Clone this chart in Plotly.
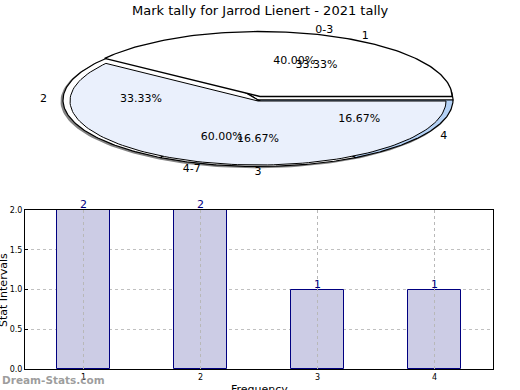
import numpy as np
import plotly.graph_objects as go

title_text = "Mark tally for Jarrod Lienert - 2021 tally"
outer_labels = ["0-3", "4-7"]
outer_values = [2, 3]
inner_labels = ["1", "2", "3", "4"]
inner_values = [2, 2, 1, 1]
bar_categories = [1, 2, 3, 4]
bar_values = [2, 2, 1, 1]
y_ticks = [0.0, 0.5, 1.0, 1.5, 2.0]

FONT = "DejaVu Sans"
fig = go.Figure()

# pie geometry (pixel space of the pie axes)
CX, CY, RX, RY = 258, 99.5, 195, 66.5


def angles(values):
    tot = float(sum(values))
    cum = np.concatenate([[0], np.cumsum(values)]) / tot * 360.0
    return [(cum[i], cum[i + 1]) for i in range(len(values))]


def wedge(a0, a1, cx, cy, rx, ry, n=120):
    t = np.radians(np.linspace(a0, a1, n))
    xs = np.concatenate([[cx], cx + rx * np.cos(t), [cx]])
    ys = np.concatenate([[cy], cy - ry * np.sin(t), [cy]])
    return xs, ys


def add_wedge(a0, a1, cx, cy, rx, ry, fill, line_color="black", lw=1.0):
    xs, ys = wedge(a0, a1, cx, cy, rx, ry)
    fig.add_trace(go.Scatter(x=xs, y=ys, mode="lines", fill="toself", fillcolor=fill,
                             line=dict(color=line_color, width=lw), hoverinfo="skip",
                             showlegend=False, xaxis="x2", yaxis="y2"))


outer_ang = angles(outer_values)
inner_ang = angles(inner_values)

# shadow
a0, a1 = outer_ang[1]
add_wedge(a0, a1, CX - 1.5, CY + 1.8, RX + 1, RY + 0.5, "rgba(90,90,90,0.75)", "rgba(0,0,0,0)", 0)
# back pie (inner values)
inner_colors = ["white", "white", "white", "#b3d1f6"]
for (b0, b1), col in zip(inner_ang, inner_colors):
    add_wedge(b0, b1, CX, CY + 0.5, RX, RY, col, "black", 1.2)
# front pie (outer values)
a0, a1 = outer_ang[1]
add_wedge(a0, a1, CX, CY + 1.5, RX - 7, RY - 2.5, "#eaf0fc", "black", 1.0)
a0, a1 = outer_ang[0]
add_wedge(a0, a1, CX + 2, CY - 3, RX - 3, RY - 1.5, "white", "black", 1.3)

# labels
lab_x, lab_y, lab_t = [], [], []
pct_x, pct_y, pct_t = [], [], []
for labels, values, angs in ((outer_labels, outer_values, outer_ang),
                             (inner_labels, inner_values, inner_ang)):
    tot = float(sum(values))
    for lab, v, (b0, b1) in zip(labels, values, angs):
        m = np.radians((b0 + b1) / 2)
        lab_x.append(CX + 1.1 * RX * np.cos(m))
        lab_y.append(CY - 1.1 * RY * np.sin(m))
        lab_t.append(lab)
        pct_x.append(CX + 0.6 * RX * np.cos(m))
        pct_y.append(CY - 0.6 * RY * np.sin(m))
        pct_t.append(f"{v / tot * 100:.2f}%")

fig.add_trace(go.Scatter(x=lab_x, y=lab_y, text=lab_t, mode="text",
                         textfont=dict(family=FONT, size=11, color="black"),
                         hoverinfo="skip", showlegend=False, xaxis="x2", yaxis="y2"))
fig.add_trace(go.Scatter(x=pct_x, y=pct_y, text=pct_t, mode="text",
                         textfont=dict(family=FONT, size=11, color="black"),
                         hoverinfo="skip", showlegend=False, xaxis="x2", yaxis="y2"))

# bar chart
fig.add_trace(go.Bar(x=bar_categories, y=bar_values, width=0.45,
                     marker=dict(color="#ccccE5", line=dict(color="#000080", width=1)),
                     showlegend=False, hoverinfo="skip"))

W, H = 520, 390
annotations = [
    dict(text=title_text, x=260 / W, y=1 - 10 / H, xref="paper", yref="paper",
         showarrow=False, font=dict(family=FONT, size=13, color="black"),
         xanchor="center", yanchor="middle"),
    dict(text="Stat Intervals", x=3 / W, y=1 - 290 / H, xref="paper", yref="paper",
         showarrow=False, textangle=-90, font=dict(family=FONT, size=11, color="black"),
         xanchor="center", yanchor="middle"),
    dict(text="Frequency", x=259 / W, y=1 - 389 / H, xref="paper", yref="paper",
         showarrow=False, font=dict(family=FONT, size=11, color="black"),
         xanchor="center", yanchor="middle"),
    dict(text="<b>Dream-Stats.com</b>", x=0, y=1 - 380 / H, xref="paper", yref="paper",
         showarrow=False, font=dict(family=FONT, size=10.5, color="rgba(140,140,140,0.85)"),
         xanchor="left", yanchor="middle"),
]
for c, v in zip(bar_categories, bar_values):
    annotations.append(dict(text=str(v), x=c, y=v, xref="x", yref="y", showarrow=False,
                            xanchor="center", yanchor="bottom", yshift=-3,
                            font=dict(family=FONT, size=11, color="#000080")))

shapes = [dict(type="line", xref="x", yref="paper", x0=c, x1=c,
               y0=1 - 369 / H, y1=1 - 210 / H, layer="above",
               line=dict(color="#b8b8b8", width=1, dash="dot"))
          for c in bar_categories]

fig.update_layout(
    width=W, height=H, margin=dict(l=0, r=0, t=0, b=0, autoexpand=False),
    plot_bgcolor="rgba(0,0,0,0)", paper_bgcolor="white",
    font=dict(family=FONT, size=8, color="black"),
    bargap=0,
    xaxis=dict(domain=[25 / W, 493 / W], range=[0.5, 4.5], tickvals=bar_categories,
               showline=True, mirror=True, linecolor="black", linewidth=1,
               ticks="inside", ticklen=3, tickcolor="black", automargin=False,
               showgrid=False, zeroline=False, tickfont=dict(size=8)),
    yaxis=dict(domain=[1 - 369 / H, 1 - 210 / H], range=[0, 2], tickvals=y_ticks,
               tickformat=".1f", automargin=False,
               showline=True, mirror=True, linecolor="black", linewidth=1,
               ticks="inside", ticklen=3, tickcolor="black",
               showgrid=True, gridcolor="#c0c0c0", griddash="dot", gridwidth=1,
               zeroline=False, tickfont=dict(size=8)),
    xaxis2=dict(domain=[0, 1], range=[0, W], visible=False, anchor="y2", automargin=False),
    yaxis2=dict(domain=[0, 1], range=[H, 0], visible=False, anchor="x2", automargin=False),
    annotations=annotations,
    shapes=shapes,
)

fig.write_html("out.html", config={"displayModeBar": False},
               post_script="document.body.style.margin='0';")
